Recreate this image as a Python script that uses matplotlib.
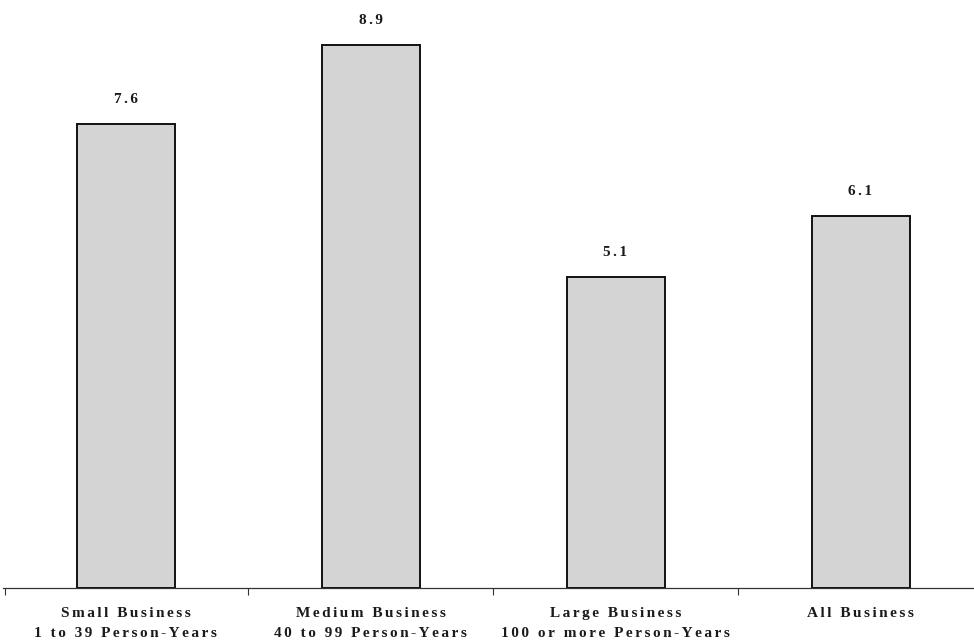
import numpy as np
import matplotlib.pyplot as plt

categories = ['Small Business\n1 to 39 Person-Years',
              'Medium Business\n40 to 99 Person-Years',
              'Large Business\n100 or more Person-Years',
              'All Business']
values = [7.6, 8.9, 5.1, 6.1]

plt.rcParams['font.family'] = ['Liberation Serif', 'DejaVu Serif']

def spaced(s, gap='\u2006'):
    # letter-spaced look of the original typesetting
    return '\n'.join(gap.join(line) for line in s.split('\n'))

fig = plt.figure(figsize=(9.74, 6.42), dpi=100)
ax = fig.add_axes([3/974, 54/642, 980/974, 586/642])

x = np.arange(len(values))
ax.bar(x, values, width=0.40, color='#d4d4d4', edgecolor='#111111', linewidth=1.4)

for xi, v in zip(x, values):
    ax.annotate(spaced(f'{v:.1f}'), (xi, v), xytext=(0, 13), textcoords='offset points',
                ha='center', va='bottom', fontsize=11, fontweight='bold', color='#1a1a1a')

ax.set_xlim(-0.5, 3.5)
ax.set_ylim(0, 9.6)

for s in ['top', 'right', 'left']:
    ax.spines[s].set_visible(False)
ax.spines['bottom'].set_color('#333333')
ax.spines['bottom'].set_linewidth(0.9)
ax.set_yticks([])

ax.set_xticks(x)
ax.set_xticklabels([spaced(c) for c in categories], fontsize=11, fontweight='bold',
                   color='#1a1a1a', linespacing=1.7)
ax.tick_params(axis='x', which='major', length=0, pad=14)
ax.set_xticks([-0.49, 0.5, 1.5, 2.5], minor=True)
ax.tick_params(axis='x', which='minor', length=5, width=0.8, color='#333333', direction='out')

fig.savefig('out.png', dpi=100, facecolor='white')
